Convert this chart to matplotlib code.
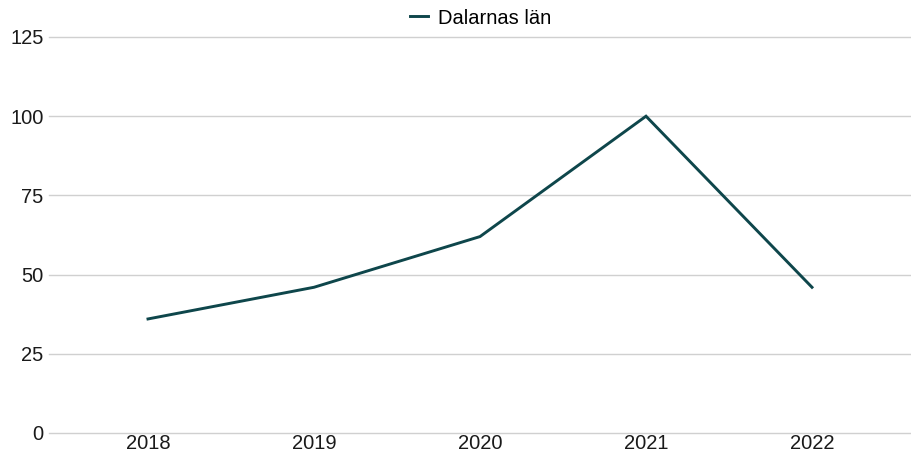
import matplotlib.pyplot as plt
import matplotlib as mpl

mpl.rcParams['font.family'] = ['Liberation Sans', 'DejaVu Sans']
mpl.rcParams['font.size'] = 14.5

years = ["2018", "2019", "2020", "2021", "2022"]
dalarna = [36, 46, 62, 100, 46]
yticks = [0, 25, 50, 75, 100, 125]

fig = plt.figure(figsize=(9.12, 4.54), dpi=100)
ax = fig.add_axes([49/912, 1-433/454, 1-49/912, (433-37)/454])

x = list(range(len(years)))
ax.plot(x, dalarna, color="#0e464b", lw=2.1, label="Dalarnas län", solid_joinstyle="miter")

ax.set_ylim(0, 125)
ax.set_yticks(yticks)
ax.set_xticks(x)
ax.set_xticklabels(years)
ax.set_xlim(-(148-49)/166, 4 + (912-812)/166)

for t in yticks:
    ax.axhline(t, color="#d0d0d0", lw=1, zorder=0, clip_on=False)
for s in ax.spines.values():
    s.set_visible(False)
ax.tick_params(length=0, labelcolor="#1a1a1a")
ax.tick_params(axis="y", pad=4)
ax.tick_params(axis="x", pad=1)

fig.legend(loc="center", bbox_to_anchor=(0.527, 1-18/454), frameon=False,
           handlelength=0.9, handletextpad=0.5, fontsize=14.5)

fig.savefig("out.png", dpi=100)
